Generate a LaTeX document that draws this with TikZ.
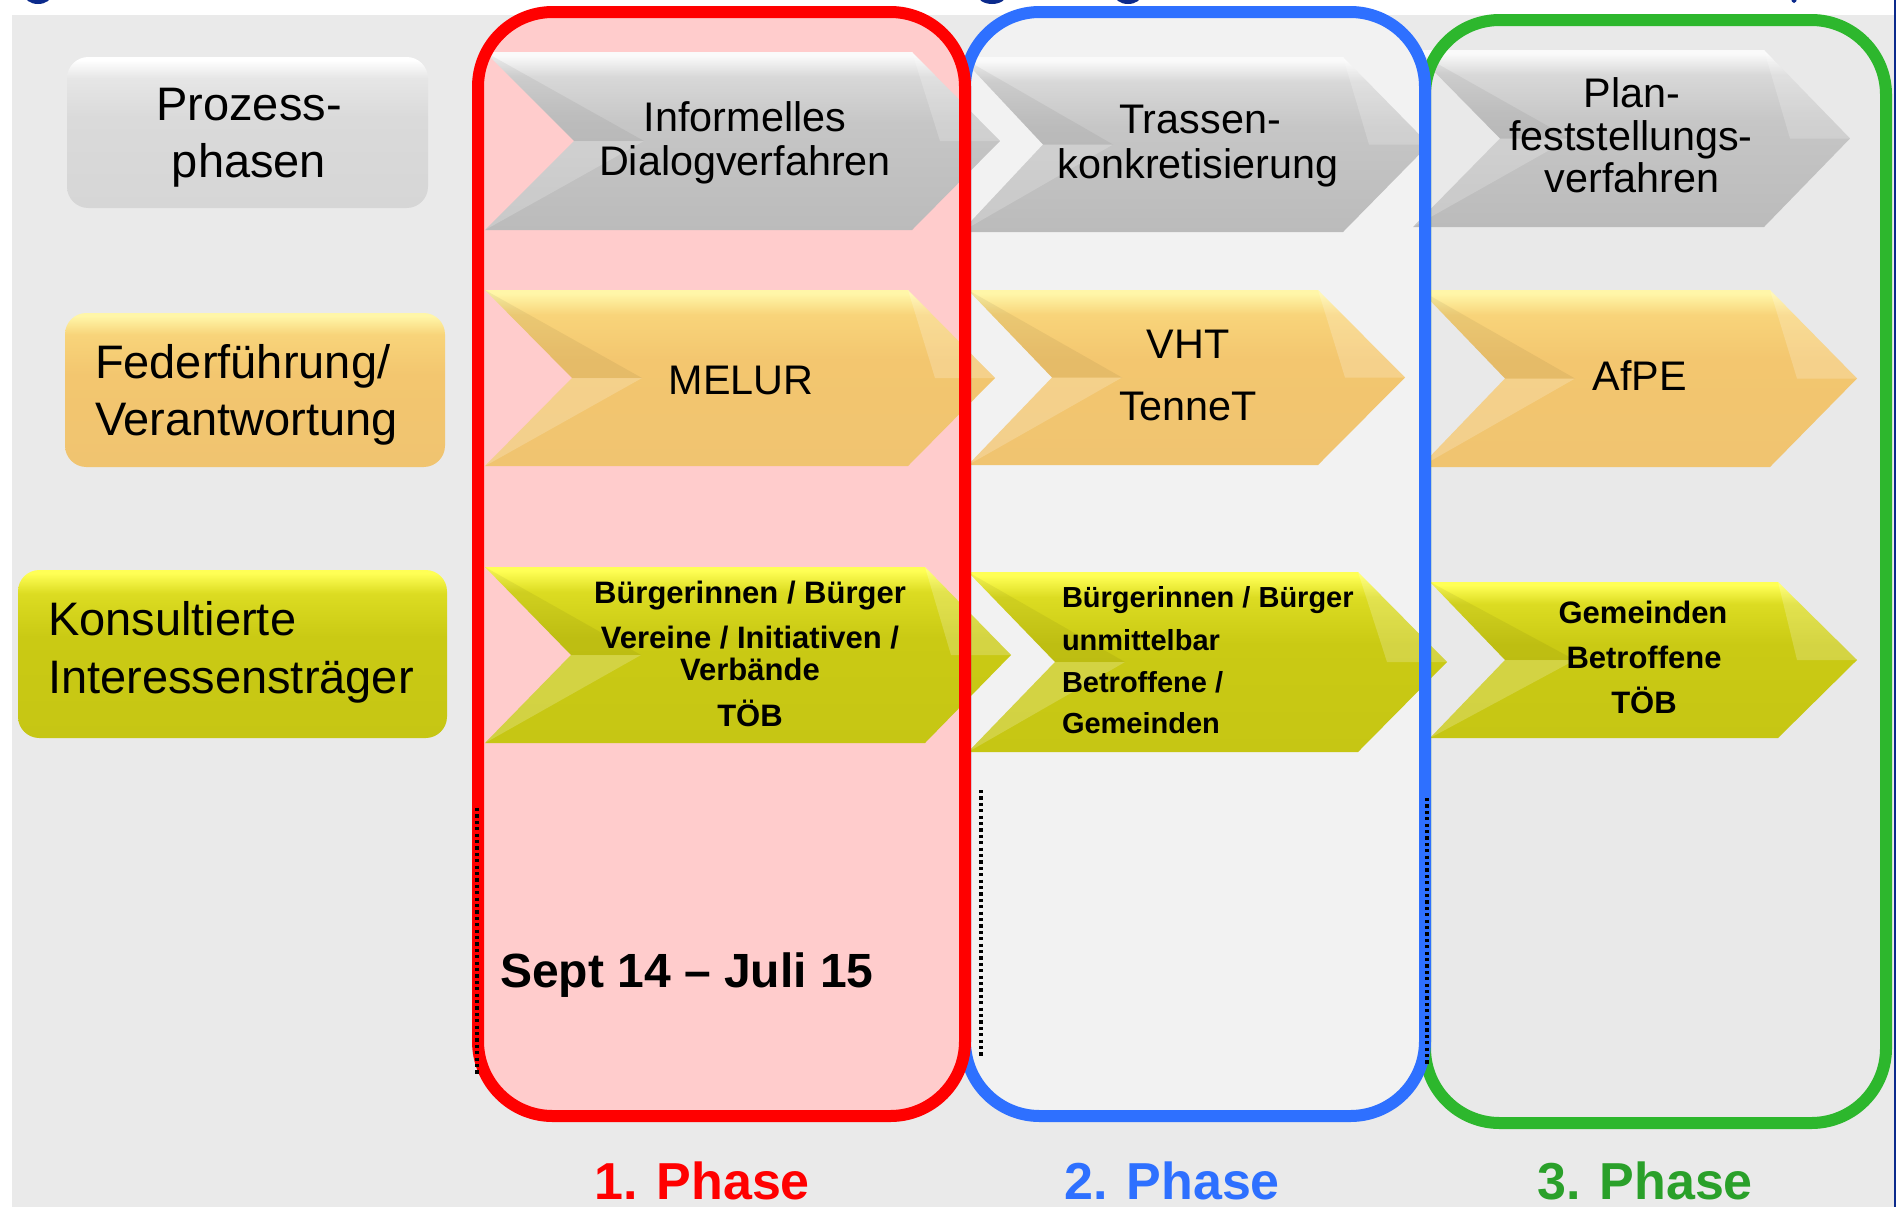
\documentclass[tikz,border=0pt]{standalone}
\usepackage{fontspec}
\setmainfont{Liberation Sans}

\definecolor{bggrey}{HTML}{EAEAEA}
\definecolor{navy}{HTML}{0B2A8C}
\definecolor{phasered}{HTML}{FF0000}
\definecolor{phaseblue}{HTML}{2E70FF}
\definecolor{phasegreen}{HTML}{2DB72D}
\definecolor{phasegreentxt}{HTML}{2AA02A}
\definecolor{redfill}{HTML}{FFCCCC}
\definecolor{bluefill}{HTML}{F2F2F2}
\definecolor{greenfill}{HTML}{E9E9E9}
% chevron and box colours
\definecolor{cgbot}{HTML}{BBBBBB}\definecolor{cgmid}{HTML}{C6C6C6}\definecolor{cgup}{HTML}{D8D8D8}\definecolor{cgtop}{HTML}{FAFAFA}
\definecolor{bgbot}{HTML}{D6D6D6}\definecolor{bgmid}{HTML}{DADADA}\definecolor{bgup}{HTML}{E6E6E6}\definecolor{bgtop}{HTML}{FFFFFF}
\definecolor{cobot}{HTML}{F0C470}\definecolor{comid}{HTML}{F3C66F}\definecolor{coup}{HTML}{F8D47A}\definecolor{cotop}{HTML}{FFF6A8}
\definecolor{cybot}{HTML}{C6C614}\definecolor{cymid}{HTML}{CACA14}\definecolor{cyup}{HTML}{DCDC22}\definecolor{cytop}{HTML}{FFFF55}

\pgfdeclareverticalshading{chevgrey}{100bp}{color(0bp)=(cgbot); color(25bp)=(cgbot); color(55bp)=(cgmid); color(68bp)=(cgup); color(74bp)=(cgtop); color(100bp)=(cgtop)}
\pgfdeclareverticalshading{boxgrey}{100bp}{color(0bp)=(bgbot); color(25bp)=(bgbot); color(55bp)=(bgmid); color(68bp)=(bgup); color(74bp)=(bgtop); color(100bp)=(bgtop)}
\pgfdeclareverticalshading{chevorange}{100bp}{color(0bp)=(cobot); color(25bp)=(cobot); color(55bp)=(comid); color(68bp)=(coup); color(74bp)=(cotop); color(100bp)=(cotop)}
\pgfdeclareverticalshading{chevyellow}{100bp}{color(0bp)=(cybot); color(25bp)=(cybot); color(55bp)=(cymid); color(68bp)=(cyup); color(74bp)=(cytop); color(100bp)=(cytop)}

\tikzset{every picture/.style={line width=0.75pt},
  facetdark/.style={fill=black, fill opacity=0.055},
  facetlight/.style={fill=white, fill opacity=0.2},
  phaseframe/.style={line width=9pt, rounded corners=56pt},
  labelbox/.style={rounded corners=16pt},
  dotline/.style={line width=2.4pt, dash pattern=on 2.4pt off 2.4pt},
  lab/.style={inner sep=0pt, outer sep=0pt, anchor=base, font=\fontsize{35.25}{42}\selectfont},
  stagetxt/.style={inner sep=0pt, outer sep=0pt, anchor=base, font=\fontsize{31}{37}\selectfont},
  actortxt/.style={inner sep=0pt, outer sep=0pt, anchor=base, font=\bfseries\fontsize{23.25}{28}\selectfont},
  actorsm/.style={inner sep=0pt, outer sep=0pt, anchor=base west, font=\bfseries\fontsize{21.75}{26}\selectfont},
  datetxt/.style={inner sep=0pt, outer sep=0pt, anchor=base west, font=\bfseries\fontsize{36}{43}\selectfont},
  phasetxt/.style={inner sep=0pt, outer sep=0pt, anchor=base, font=\bfseries\fontsize{39}{47}\selectfont}}

\begin{document}
\begin{tikzpicture}[x=0.75pt,y=0.75pt,yscale=-1,xscale=1]
%set diagram left start at 0, and has height of 1207
\useasboundingbox (0,0) rectangle (1898,1207);
\fill[white] (0,0) rectangle (1898,1207);
%Shape: Rectangle [background]
\fill[bggrey] (12,15) rectangle (1894,1207);
%Cut title glyphs
\fill[navy] (38,-6) ellipse (14 and 10);
\fill[navy] (992,-6) ellipse (15 and 10);
\fill[navy] (1128,-6) ellipse (14 and 10);
\fill[navy] (1794,-2) ellipse (3 and 5);
\draw[navy, line width=1.5pt] (1895,0) -- (1895,1207);

%Shape: Rounded Rect [phase fills]
\fill[greenfill, rounded corners=56pt] (1425,20) rectangle (1886,1123);
\fill[bluefill, rounded corners=56pt] (965,12) rectangle (1425,1116);
\fill[redfill, rounded corners=56pt] (478,12) rectangle (965,1116);

%Shape: Rounded Rect [row labels]
\shade[labelbox, shading=boxgrey] (67,57) rectangle (428,208);
\shade[labelbox, shading=chevorange] (65,313) rectangle (445,467);
\shade[labelbox, shading=chevyellow] (18,570) rectangle (447,738);

%Shape: Chevron [Prozessphasen]
\shade[shading=chevgrey] (485,52) -- (912,52) -- (1000,141) -- (912,230) -- (485,230) -- (574,141) -- cycle;
\fill[facetdark] (485,52) -- (574,141) -- (644,141) -- cycle;
\fill[facetlight] (574,141) -- (485,230) -- (644,141) -- cycle;
\fill[facetlight] (912,52) -- (1000,141) -- (940,141) -- cycle;
\shade[shading=chevgrey] (961,57) -- (1343,57) -- (1429,144.5) -- (1343,232) -- (961,232) -- (1043,144.5) -- cycle;
\fill[facetdark] (961,57) -- (1043,144.5) -- (1113,144.5) -- cycle;
\fill[facetlight] (1043,144.5) -- (961,232) -- (1113,144.5) -- cycle;
\fill[facetlight] (1343,57) -- (1429,144.5) -- (1369,144.5) -- cycle;
\shade[shading=chevgrey] (1413,50) -- (1764,50) -- (1850,138.5) -- (1764,227) -- (1413,227) -- (1500,138.5) -- cycle;
\fill[facetdark] (1413,50) -- (1500,138.5) -- (1570,138.5) -- cycle;
\fill[facetlight] (1500,138.5) -- (1413,227) -- (1570,138.5) -- cycle;
\fill[facetlight] (1764,50) -- (1850,138.5) -- (1790,138.5) -- cycle;

%Shape: Chevron [Federfuehrung]
\shade[shading=chevorange] (485,290) -- (908,290) -- (995,378) -- (908,466) -- (485,466) -- (572,378) -- cycle;
\fill[facetdark] (485,290) -- (572,378) -- (642,378) -- cycle;
\fill[facetlight] (572,378) -- (485,466) -- (642,378) -- cycle;
\fill[facetlight] (908,290) -- (995,378) -- (935,378) -- cycle;
\shade[shading=chevorange] (968,290) -- (1318,290) -- (1405,377.5) -- (1318,465) -- (968,465) -- (1052,377.5) -- cycle;
\fill[facetdark] (968,290) -- (1052,377.5) -- (1122,377.5) -- cycle;
\fill[facetlight] (1052,377.5) -- (968,465) -- (1122,377.5) -- cycle;
\fill[facetlight] (1318,290) -- (1405,377.5) -- (1345,377.5) -- cycle;
\shade[shading=chevorange] (1420,290) -- (1770,290) -- (1857,378.5) -- (1770,467) -- (1420,467) -- (1505,378.5) -- cycle;
\fill[facetdark] (1420,290) -- (1505,378.5) -- (1575,378.5) -- cycle;
\fill[facetlight] (1505,378.5) -- (1420,467) -- (1575,378.5) -- cycle;
\fill[facetlight] (1770,290) -- (1857,378.5) -- (1797,378.5) -- cycle;

%Shape: Chevron [Interessenstraeger]
\shade[shading=chevyellow] (485,567) -- (925,567) -- (1011,655) -- (925,743) -- (485,743) -- (571,655) -- cycle;
\fill[facetdark] (485,567) -- (571,655) -- (641,655) -- cycle;
\fill[facetlight] (571,655) -- (485,743) -- (641,655) -- cycle;
\fill[facetlight] (925,567) -- (1011,655) -- (951,655) -- cycle;
\shade[shading=chevyellow] (968,572) -- (1358,572) -- (1447,662) -- (1358,752) -- (968,752) -- (1055,662) -- cycle;
\fill[facetdark] (968,572) -- (1055,662) -- (1125,662) -- cycle;
\fill[facetlight] (1055,662) -- (968,752) -- (1125,662) -- cycle;
\fill[facetlight] (1358,572) -- (1447,662) -- (1387,662) -- cycle;
\shade[shading=chevyellow] (1430,582) -- (1778,582) -- (1857,660) -- (1778,738) -- (1430,738) -- (1505,660) -- cycle;
\fill[facetdark] (1430,582) -- (1505,660) -- (1575,660) -- cycle;
\fill[facetlight] (1505,660) -- (1430,738) -- (1575,660) -- cycle;
\fill[facetlight] (1778,582) -- (1857,660) -- (1797,660) -- cycle;

%Shape: Rounded Rect [phase frames]
\draw[phasegreen, phaseframe] (1425,20) rectangle (1886,1123);
\draw[phaseblue, phaseframe] (965,12) rectangle (1425,1116);
\draw[phasered, phaseframe] (478,12) rectangle (965,1116);

%Straight Lines [dotted]
\draw[dotline] (477,808) -- (477,1075);
\draw[dotline] (981,790) -- (981,1058);
\draw[dotline] (1427,798) -- (1427,1065);

% Text Node
\node[lab] (proz1) at (249,120) {Prozess-};
\node[lab] (proz2) at (249,177) {phasen};
\node[lab, anchor=base west] (fed1) at (95,378) {Federführung/};
\node[lab, anchor=base west] (fed2) at (95,435) {Verantwortung};
\node[lab, anchor=base west] (kon1) at (48,635) {Konsultierte};
\node[lab, anchor=base west] (kon2) at (48,693) {Interessensträger};
% Text Node
\node[stagetxt] (inf1) at (745,131) {Informelles};
\node[stagetxt] (inf2) at (745,175) {Dialogverfahren};
\node[stagetxt] (tra1) at (1200,133) {Trassen-};
\node[stagetxt] (tra2) at (1198,178) {konkretisierung};
\node[stagetxt] (pla1) at (1632,107) {Plan-};
\node[stagetxt] (pla2) at (1631,150) {feststellungs-};
\node[stagetxt] (pla3) at (1632,192) {verfahren};
% Text Node
\node[stagetxt] (lead1) at (741,394) {MELUR};
\node[stagetxt] (lead2) at (1188,358) {VHT};
\node[stagetxt] (lead3) at (1188,420) {TenneT};
\node[stagetxt] (lead4) at (1640,390) {AfPE};
% Text Node
\node[actortxt] (act1) at (750,603) {Bürgerinnen / Bürger};
\node[actortxt] (act2) at (750,648) {Vereine / Initiativen /};
\node[actortxt] (act3) at (750,680) {Verbände};
\node[actortxt] (act4) at (750,726) {TÖB};
\node[actorsm] (act5) at (1062,607) {Bürgerinnen / Bürger};
\node[actorsm] (act6) at (1062,650) {unmittelbar};
\node[actorsm] (act7) at (1062,692) {Betroffene /};
\node[actorsm] (act8) at (1062,733) {Gemeinden};
\node[actortxt] (act9) at (1643,623) {Gemeinden};
\node[actortxt] (act10) at (1644,668) {Betroffene};
\node[actortxt] (act11) at (1644,713) {TÖB};
% Text Node
\node[datetxt] (date) at (500,987) {Sept 14 – Juli 15};
\node[phasetxt, text=phasered] (ph1) at (702,1199) {1. Phase};
\node[phasetxt, text=phaseblue] (ph2) at (1172,1199) {2. Phase};
\node[phasetxt, text=phasegreentxt] (ph3) at (1645,1199) {3. Phase};
\end{tikzpicture}
\end{document}
